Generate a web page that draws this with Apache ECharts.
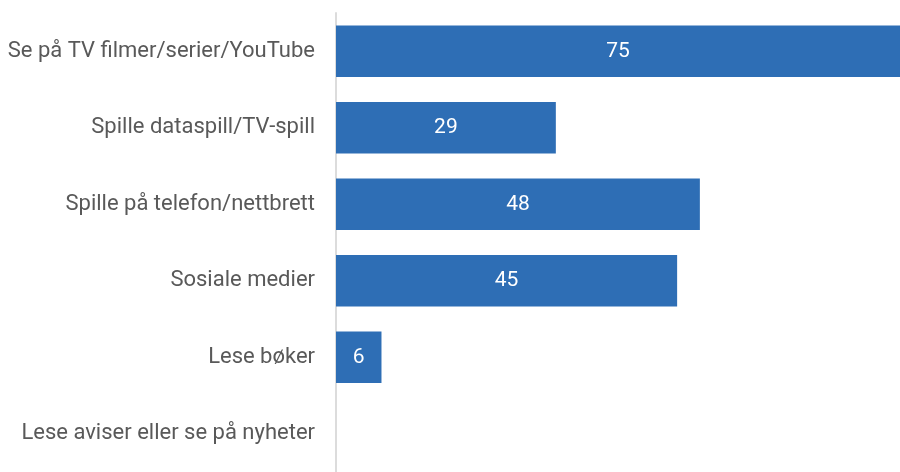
<!DOCTYPE html>
<html>
<head>
<meta charset="utf-8">
<script src="https://cdn.jsdelivr.net/npm/echarts@6/dist/echarts.min.js"></script>
<style>
  html, body { margin: 0; padding: 0; background: #fff; }
  #chart { width: 900px; height: 472px; }
</style>
</head>
<body>
<div id="chart"></div>
<script>
// kategorier ovenfra og ned
const categories = [
  'Se på TV filmer/serier/YouTube',
  'Spille dataspill/TV-spill',
  'Spille på telefon/nettbrett',
  'Sosiale medier',
  'Lese bøker',
  'Lese aviser eller se på nyheter'
]
const values = [75, 29, 48, 45, 6, 0]

const chart = echarts.init(document.getElementById('chart'))
chart.setOption({
  animation: false,
  grid: { left: 336, right: 0, top: 13, bottom: -9 },
  xAxis: {
    type: 'value', min: 0, max: 74.4, show: false
  },
  yAxis: {
    type: 'category',
    inverse: true,
    data: categories,
    axisLine: { show: true, lineStyle: { color: '#dcdcdc', width: 2 } },
    axisTick: { show: false },
    axisLabel: { color: '#595959', fontSize: 22, fontFamily: 'Roboto', margin: 21 }
  },
  series: [{
    type: 'bar',
    data: values,
    barCategoryGap: '33%',
    itemStyle: { color: '#2e6eb5' },
    label: {
      show: true, position: 'inside', color: '#fff',
      fontSize: 21, fontFamily: 'Roboto',
      formatter: (p) => (p.value ? p.value : '')
    }
  }]
})
</script>
</body>
</html>
